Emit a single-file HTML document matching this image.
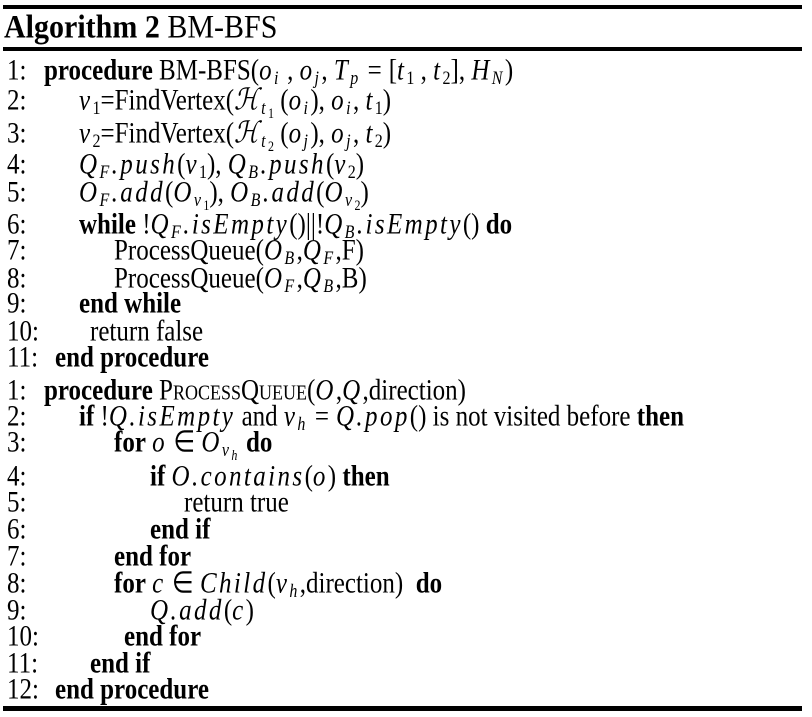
<!DOCTYPE html>
<html><head><meta charset="utf-8">
<style>
body{margin:0;background:#fff;}
#wrap{position:relative;width:812px;height:717px;overflow:hidden;background:#fff;font-family:"Liberation Serif",serif;color:#000;}
.rule{position:absolute;left:3px;width:799px;background:#000;}
.ln{position:absolute;left:0;width:812px;height:30px;line-height:30px;font-size:25px;white-space:nowrap;transform:scaleY(1.2);transform-origin:50% 50%;}
.num{position:absolute;left:7px;top:0;}
.c{position:absolute;top:0;}
i{font-style:italic;letter-spacing:2.4px;}
sub{font-size:16px;vertical-align:-4px;line-height:0;letter-spacing:0;}
sub sub{font-size:12px;vertical-align:-3px;}
.sc{font-variant:small-caps;}
.eq{padding:0 7px;}
</style></head><body>
<div id="wrap">
<div class="rule" style="top:5px;height:4px"></div>
<div style="position:absolute;left:4px;top:12px;font-size:30px;line-height:32px;transform:scaleY(1.08)"><b>Algorithm 2</b> BM-BFS</div>
<div class="rule" style="top:47px;height:4px"></div>

<div class="ln" style="top:56px"><span class="num">1:</span><span class="c" style="left:44px"><b>procedure</b> BM-BFS(<i>o</i><sub><i>i</i></sub> , <i>o</i><sub><i>j</i></sub>, <i>T</i><sub><i>p</i></sub><span class="eq">=</span>[<i>t</i><sub>1</sub> , <i>t</i><sub>2</sub>], <i>H</i><sub><i>N</i></sub>)</span></div>
<div class="ln" style="top:86px"><span class="num">2:</span><span class="c" style="left:79px"><i>v</i><sub>1</sub>=FindVertex(<i>&#x210B;</i><sub><i>t</i><sub>1</sub></sub> (<i>o</i><sub><i>i</i></sub>), <i>o</i><sub><i>i</i></sub>, <i>t</i><sub>1</sub>)</span></div>
<div class="ln" style="top:119px"><span class="num">3:</span><span class="c" style="left:79px"><i>v</i><sub>2</sub>=FindVertex(<i>&#x210B;</i><sub><i>t</i><sub>2</sub></sub> (<i>o</i><sub><i>j</i></sub>), <i>o</i><sub><i>j</i></sub>, <i>t</i><sub>2</sub>)</span></div>
<div class="ln" style="top:150px"><span class="num">4:</span><span class="c" style="left:79px"><i>Q</i><sub><i>F</i></sub><i>.push</i>(<i>v</i><sub>1</sub>), <i>Q</i><sub><i>B</i></sub><i>.push</i>(<i>v</i><sub>2</sub>)</span></div>
<div class="ln" style="top:178px"><span class="num">5:</span><span class="c" style="left:79px"><i>O</i><sub><i>F</i></sub><i>.add</i>(<i>O</i><sub><i>v</i><sub>1</sub></sub>), <i>O</i><sub><i>B</i></sub><i>.add</i>(<i>O</i><sub><i>v</i><sub>2</sub></sub>)</span></div>
<div class="ln" style="top:210px"><span class="num">6:</span><span class="c" style="left:79px"><b>while</b> !<i>Q</i><sub><i>F</i></sub><i>.isEmpty</i>()||!<i>Q</i><sub><i>B</i></sub><i>.isEmpty</i>() <b>do</b></span></div>
<div class="ln" style="top:236px"><span class="num">7:</span><span class="c" style="left:114px">ProcessQueue(<i>O</i><sub><i>B</i></sub>,<i>Q</i><sub><i>F</i></sub>,F)</span></div>
<div class="ln" style="top:264px"><span class="num">8:</span><span class="c" style="left:114px">ProcessQueue(<i>O</i><sub><i>F</i></sub>,<i>Q</i><sub><i>B</i></sub>,B)</span></div>
<div class="ln" style="top:289px"><span class="num">9:</span><span class="c" style="left:79px"><b>end while</b></span></div>
<div class="ln" style="top:317px"><span class="num">10:</span><span class="c" style="left:90px">return false</span></div>
<div class="ln" style="top:343px"><span class="num">11:</span><span class="c" style="left:55px"><b>end procedure</b></span></div>

<div class="ln" style="top:376px"><span class="num">1:</span><span class="c" style="left:44px"><b>procedure</b> <span class="sc">ProcessQueue</span>(<i>O</i>,<i>Q</i>,direction)</span></div>
<div class="ln" style="top:402px"><span class="num">2:</span><span class="c" style="left:79px"><b>if</b> !<i>Q.isEmpty</i> and <i>v</i><sub><i>h</i></sub><span class="eq">=</span><i>Q.pop</i>() is not visited before <b>then</b></span></div>
<div class="ln" style="top:428px"><span class="num">3:</span><span class="c" style="left:114px"><b>for</b> <i>o</i> &#8712; <i>O</i><sub><i>v</i><sub><i>h</i></sub></sub> <b>do</b></span></div>
<div class="ln" style="top:462px"><span class="num">4:</span><span class="c" style="left:150px"><b>if</b> <i>O.contains</i>(<i>o</i>) <b>then</b></span></div>
<div class="ln" style="top:488px"><span class="num">5:</span><span class="c" style="left:184px">return true</span></div>
<div class="ln" style="top:515px"><span class="num">6:</span><span class="c" style="left:150px"><b>end if</b></span></div>
<div class="ln" style="top:542px"><span class="num">7:</span><span class="c" style="left:114px"><b>end for</b></span></div>
<div class="ln" style="top:569px"><span class="num">8:</span><span class="c" style="left:114px"><b>for</b> <i>c</i> &#8712; <i>Child</i>(<i>v</i><sub><i>h</i></sub>,direction) &nbsp;<b>do</b></span></div>
<div class="ln" style="top:596px"><span class="num">9:</span><span class="c" style="left:150px"><i>Q.add</i>(<i>c</i>)</span></div>
<div class="ln" style="top:622px"><span class="num">10:</span><span class="c" style="left:124px"><b>end for</b></span></div>
<div class="ln" style="top:649px"><span class="num">11:</span><span class="c" style="left:90px"><b>end if</b></span></div>
<div class="ln" style="top:675px"><span class="num">12:</span><span class="c" style="left:55px"><b>end procedure</b></span></div>

<div class="rule" style="top:706px;height:5px"></div>
</div>
</body></html>
